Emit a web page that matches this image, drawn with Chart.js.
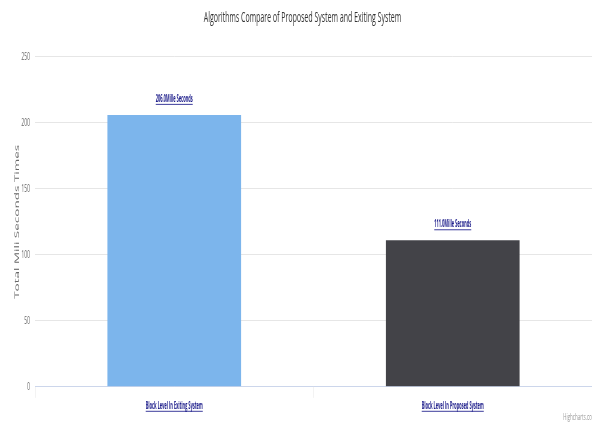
<!DOCTYPE html>
<html>
<head>
<meta charset="utf-8">
<script src="https://cdn.jsdelivr.net/npm/chart.js@4/dist/chart.umd.min.js"></script>
<style>
  html, body { margin: 0; padding: 0; background: #fff; overflow: hidden; }
  #wrap { width: 592px; height: 426px; overflow: hidden; }
  /* the reference is squeezed sideways, so draw wide and squeeze */
  #myChart { transform: scaleX(0.5); transform-origin: 0 0; }
</style>
</head>
<body>
<div id="wrap"><canvas id="myChart" width="1184" height="426"></canvas></div>
<script>
// dati del grafico
var categories = ["Block Level In Exiting System", "Block Level In Proposed System"];
var times = [206, 111];
var barColors = ["#7cb5ec", "#434348"];
var yTicks = [0, 50, 100, 150, 200, 250];
var labelSuffix = "Mille Seconds";

var linkColor = "#1c1c8a";
var linkFont = "bold 11px 'Open Sans'";
var narrow = 0.72;

// scrive un testo "link" stretto e sottolineato
function linkText(ctx, txt, x, y) {
  ctx.save();
  ctx.translate(x, y);
  ctx.scale(narrow, 1);
  ctx.font = linkFont;
  ctx.fillStyle = linkColor;
  ctx.strokeStyle = linkColor;
  ctx.textAlign = "center";
  ctx.textBaseline = "alphabetic";
  ctx.fillText(txt, 0, 0);
  var w = ctx.measureText(txt).width;
  ctx.lineWidth = 1;
  ctx.beginPath();
  ctx.moveTo(-w / 2, 2.5);
  ctx.lineTo(w / 2, 2.5);
  ctx.stroke();
  ctx.restore();
}

// etichette sopra le barre
var dataLabels = {
  id: "dataLabels",
  afterDatasetsDraw: function(chart) {
    var meta = chart.getDatasetMeta(0);
    for (var i = 0; i < meta.data.length; i++) {
      var bar = meta.data[i];
      linkText(chart.ctx, times[i].toFixed(1) + labelSuffix, bar.x, bar.y - 13);
    }
  }
};

// etichette dell'asse x e credito
var extras = {
  id: "extras",
  afterDraw: function(chart) {
    var ctx = chart.ctx;
    var xs = chart.scales.x;
    for (var i = 0; i < categories.length; i++) {
      linkText(ctx, categories[i], xs.getPixelForTick(i), xs.top + 22);
    }
    ctx.save();
    ctx.font = "9px 'Open Sans'";
    ctx.fillStyle = "#999";
    ctx.textAlign = "right";
    ctx.fillText("Highcharts.com", chart.width + 8, chart.height - 6);
    ctx.restore();
  }
};

var ctx = document.getElementById("myChart").getContext("2d");
var myChart = new Chart(ctx, {
  type: "bar",
  data: {
    labels: categories,
    datasets: [{
      data: times,
      backgroundColor: barColors,
      borderWidth: 0,
      barPercentage: 0.48,
      categoryPercentage: 1
    }]
  },
  options: {
    responsive: false,
    animation: false,
    layout: { padding: { top: 0, right: 0, left: 26, bottom: 10 } },
    plugins: {
      legend: { display: false },
      tooltip: { enabled: false },
      title: {
        display: true,
        text: "Algorithms Compare of Proposed System and Exiting System",
        color: "#333",
        font: { family: "'Open Sans'", size: 14, weight: "normal" },
        padding: { top: 10, bottom: 30 }
      }
    },
    scales: {
      x: {
        grid: { offset: true, drawOnChartArea: false, drawTicks: true, tickLength: 11, color: "#e6e6e6" },
        border: { color: "#ccd6eb" },
        // le etichette vere sono disegnate dal plugin, qui tengo solo lo spazio
        ticks: { color: "rgba(0,0,0,0)", font: { family: "'Open Sans'", size: 8.5, weight: "bold" }, padding: 4 }
      },
      y: {
        min: 0,
        max: 250,
        afterBuildTicks: function(axis) {
          axis.ticks = yTicks.map(function(v) { return { value: v }; });
        },
        afterFit: function(axis) {
          axis.width = 44;
        },
        grid: { color: "#e6e6e6", drawTicks: false },
        border: { display: false },
        ticks: { color: "#666", font: { family: "'Open Sans'", size: 10 }, padding: 10 },
        title: {
          display: true,
          text: "Total Mili Seconds Times",
          color: "#666",
          font: { family: "'Open Sans'", size: 13.5 },
          padding: { top: 0, bottom: 0 }
        }
      }
    }
  },
  plugins: [dataLabels, extras]
});
</script>
</body>
</html>
